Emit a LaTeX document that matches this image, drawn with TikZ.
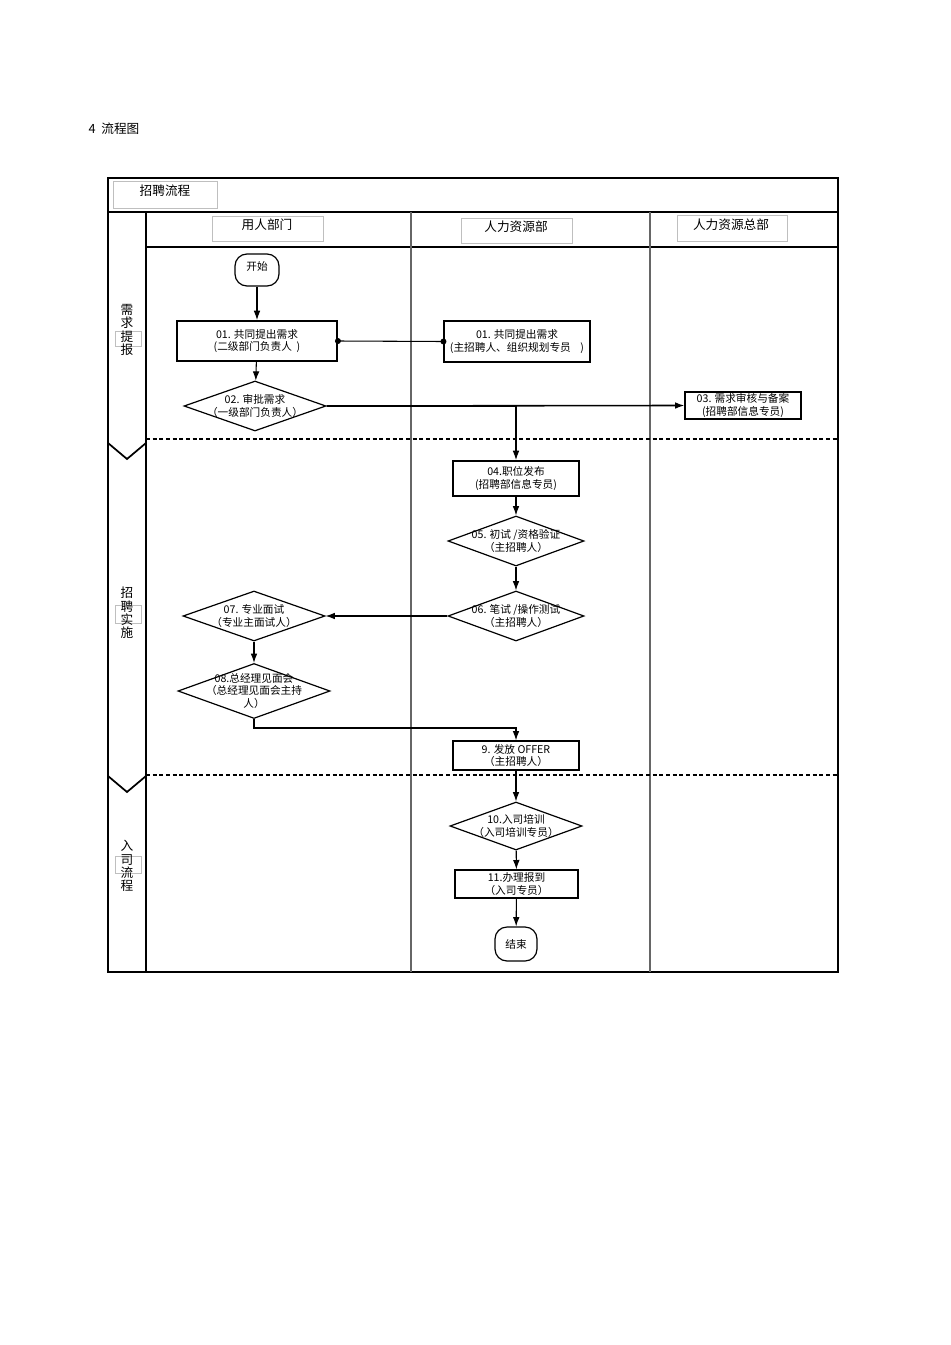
\documentclass[tikz,border=0pt]{standalone}
\usepackage{fontspec}
\setmainfont{Liberation Sans}
\newfontfamily\cjk{Noto Sans CJK SC}
\usetikzlibrary{shapes.geometric,arrows.meta}
\begin{document}
\begin{tikzpicture}[x=0.75pt,y=-0.75pt,
  txt/.style={font=\cjk\fontsize{8}{9.6}\selectfont,align=center,inner sep=0pt},
  hdr/.style={font=\cjk\fontsize{9.5}{11}\selectfont,align=center},
  hbox/.style={draw=gray!50,line width=0.5pt},
  box/.style={draw,line width=0.8pt,rectangle,inner sep=0pt},
  tbox/.style={draw,line width=1.4pt,rectangle,inner sep=0pt},
  dia/.style={draw,line width=0.9pt,diamond,inner sep=0pt},
  term/.style={draw,line width=0.9pt,rounded corners=9pt,inner sep=0pt},
  arr/.style={line width=0.8pt,-{Latex[length=7pt,width=5pt]}},
  ln/.style={line width=0.8pt},
  frame/.style={line width=1pt},
  dsh/.style={line width=1.6pt,dash pattern=on 3pt off 2pt}]
\useasboundingbox (0,0) rectangle (950,1345);
\fill[white] (0,0) rectangle (950,1345);
\node[hdr,anchor=west] (title) at (84,129) {4\ \ {\cjk 流程图}};
% frame
\draw[frame] (108,178) -- (838,178) -- (838,972) -- (108,972) -- cycle;
\draw[frame] (108,212) -- (838,212);
\draw[frame] (146,247) -- (838,247);
\draw[frame] (146,212) -- (146,972);
\draw[frame,gray!80!black] (411,212) -- (411,972);
\draw[frame,gray!80!black] (650,212) -- (650,972);
\draw[dsh] (146,439) -- (838,439);
\draw[dsh] (146,775) -- (838,775);
\draw[line width=1.3pt] (108,443) -- (127,459) -- (146,443);
\draw[line width=1.3pt] (108,776) -- (127,792) -- (146,776);
% header boxes
\draw[hbox] (113,181) rectangle (217,208);
\node[hdr] (h0) at (165,191) {招聘流程};
\draw[hbox] (212,216) rectangle (323,241);
\node[hdr] (h1) at (267,225) {用人部门};
\draw[hbox] (461,218) rectangle (572,243);
\node[hdr] (h2) at (516,227) {人力资源部};
\draw[hbox] (677,215) rectangle (787,241);
\node[hdr] (h3) at (731,225) {人力资源总部};
% lane labels
\draw[hbox] (115,331) rectangle (141,346);
\node[hdr,text width=12pt] (l1) at (127,330) {需\\[-1pt]求\\[-1pt]提\\[-1pt]报};
\draw[hbox] (115,605) rectangle (141,623);
\node[hdr,text width=12pt] (l2) at (127,613) {招\\[-1pt]聘\\[-1pt]实\\[-1pt]施};
\draw[hbox] (115,856) rectangle (141,873);
\node[hdr,text width=12pt] (l3) at (127,866) {入\\[-1pt]司\\[-1pt]流\\[-1pt]程};
% nodes
\node[term,minimum width={44*0.75pt},minimum height={32*0.75pt}] (start) at (257,270) {};
\node[txt] at (257,266) {开始};
\node[tbox,minimum width={160*0.75pt},minimum height={40*0.75pt}] (n1a) at (257,341) {};
\node[txt] at (n1a) {01. 共同提出需求\\(二级部门负责人\ \ )};
\node[box,minimum width={146*0.75pt},minimum height={41*0.75pt}] (n1b) at (517,341.5) {};
\node[txt] at (n1b) {01. 共同提出需求\\(主招聘人、组织规划专员\ \ \ \ )};
\node[dia,minimum width={142*0.75pt},minimum height={50*0.75pt}] (n2) at (255,406) {};
\node[txt] at (n2) {02. 审批需求\\（一级部门负责人）};
\node[box,minimum width={116*0.75pt},minimum height={27*0.75pt}] (n3) at (743,405.5) {};
\node[txt] at (n3) {03. 需求审核与备案\\(招聘部信息专员)};
\node[tbox,minimum width={126*0.75pt},minimum height={35*0.75pt}] (n4) at (516,478.5) {};
\node[txt] at (n4) {04.职位发布\\(招聘部信息专员)};
\node[dia,minimum width={136*0.75pt},minimum height={50*0.75pt}] (n5) at (516,541) {};
\node[txt] at (n5) {05. 初试 /资格验证\\（主招聘人）};
\node[dia,minimum width={136*0.75pt},minimum height={50*0.75pt}] (n6) at (516,616) {};
\node[txt] at (n6) {06. 笔试 /操作测试\\（主招聘人）};
\node[dia,minimum width={142*0.75pt},minimum height={50*0.75pt}] (n7) at (254,616) {};
\node[txt] at (n7) {07. 专业面试\\（专业主面试人）};
\node[dia,minimum width={152*0.75pt},minimum height={55*0.75pt}] (n8) at (254,691) {};
\node[txt] at (n8) {08.总经理见面会\\（总经理见面会主持\\人）};
\node[box,line width=1pt,minimum width={126*0.75pt},minimum height={29*0.75pt}] (n9) at (516,755.5) {};
\node[txt] at (n9) {9. 发放 OFFER\\（主招聘人）};
\node[dia,minimum width={132*0.75pt},minimum height={48*0.75pt}] (n10) at (516,826) {};
\node[txt] at (n10) {10.入司培训\\（入司培训专员）};
\node[box,line width=1pt,minimum width={123*0.75pt},minimum height={28*0.75pt}] (n11) at (516.5,884) {};
\node[txt] at (n11) {11.办理报到\\（入司专员）};
\node[term,minimum width={42*0.75pt},minimum height={34*0.75pt}] (end) at (516,944) {};
\node[txt] at (end) {结束};
% connectors
\draw[arr] (start) -- (n1a);
\draw[arr] (n1a) -- (n2);
\draw[ln] (n1a.east) -- (n1b.west);
\fill (n1a.east) circle (3); \fill (n1b.west) circle (3);
\draw[arr,line width=1.2pt] (n2.east) -- (n3.west);
\draw[arr] (n2.east) -| (n4.north);
\draw[arr] (n4) -- (n5);
\draw[arr] (n5) -- (n6);
\draw[arr] (n6.west) -- (n7.east);
\draw[arr] (n7) -- (n8);
\coordinate (c8) at (254,728);
\draw[arr] (n8.south) -- (c8) -| (n9.north);
\draw[arr] (n9) -- (n10);
\draw[arr] (n10) -- (n11);
\draw[arr] (n11) -- (end);
\end{tikzpicture}
\end{document}
